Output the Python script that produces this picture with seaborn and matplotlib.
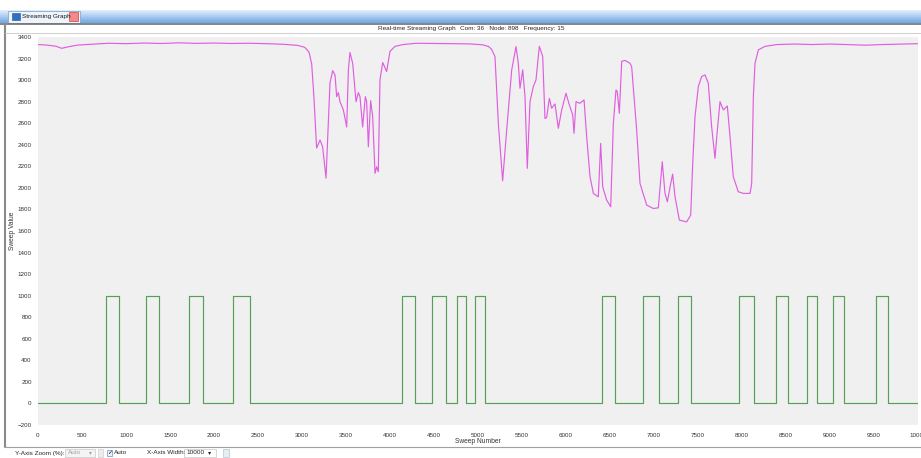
import matplotlib
matplotlib.use("Agg")
import matplotlib.pyplot as plt
import numpy as np
import pandas as pd
import seaborn as sns
from matplotlib.colors import LinearSegmentedColormap
from matplotlib.patches import Rectangle

# magenta trace
magenta_sweep = [
    0, 100, 200, 270, 350, 450, 600, 800, 1000, 1200, 1400, 1600, 1800, 2000,
    2200, 2400, 2600, 2800, 2950, 3030, 3080, 3110, 3135, 3166, 3205, 3234,
    3273, 3318, 3349, 3375, 3394, 3413, 3432, 3470, 3508, 3527, 3545, 3576,
    3614, 3640, 3659, 3689, 3720, 3735, 3754, 3780, 3803, 3830, 3848, 3867,
    3886, 3917, 3962, 4000, 4057, 4150, 4300, 4500, 4700, 4900, 5050, 5120,
    5155, 5193, 5231, 5280, 5326, 5383, 5432, 5458, 5477, 5508, 5534, 5560,
    5591, 5629, 5659, 5697, 5735, 5761, 5780, 5811, 5837, 5875, 5913, 5951,
    6000, 6038, 6076, 6091, 6114, 6159, 6205, 6235, 6273, 6311, 6367, 6394,
    6417, 6462, 6508, 6538, 6568, 6583, 6606, 6633, 6670, 6727, 6746, 6803,
    6841, 6917, 6992, 7049, 7094, 7125, 7152, 7190, 7212, 7239, 7288, 7371,
    7417, 7440, 7466, 7504, 7542, 7580, 7617, 7655, 7693, 7720, 7750, 7788,
    7833, 7864, 7901, 7958, 8015, 8091, 8110, 8129, 8148, 8186, 8261, 8400,
    8600, 8800, 9000, 9200, 9400, 9600, 9800, 10000,
]
magenta_value = [
    3330, 3325, 3315, 3295, 3310, 3325, 3332, 3342, 3338, 3344, 3340, 3346,
    3341, 3344, 3340, 3342, 3338, 3332, 3322, 3305, 3260, 3150, 2850, 2370,
    2444, 2382, 2091, 2974, 3088, 3048, 2847, 2884, 2800, 2723, 2565, 3095,
    3256, 3156, 2800, 2884, 2847, 2565, 2847, 2800, 2382, 2809, 2661, 2135,
    2196, 2150, 3002, 3163, 3080, 3267, 3313, 3330, 3342, 3340, 3338, 3336,
    3328, 3312, 3285, 3218, 2600, 2066, 2537, 3095, 3311, 3157, 2924, 3095,
    2847, 2181, 2800, 2941, 3002, 3313, 3220, 2644, 2654, 2831, 2739, 2779,
    2553, 2723, 2878, 2770, 2677, 2506, 2800, 2785, 2816, 2475, 2103, 1949,
    1917, 2413, 2010, 1887, 1825, 2599, 2909, 2894, 2692, 3174, 3183, 3156,
    3126, 2537, 2041, 1840, 1809, 1815, 2243, 1949, 1871, 2041, 2128, 1917,
    1701, 1685, 1747, 2227, 2661, 2941, 3034, 3048, 2971, 2568, 2274, 2537,
    2800, 2723, 2760, 2475, 2103, 1964, 1949, 1949, 2041, 2847, 3156, 3281,
    3313, 3330, 3335, 3330, 3335, 3330, 3324, 3330, 3334, 3338,
]

# green trace: square pulses to 1000
pulse_start = [775, 1230, 1715, 2215, 4135, 4475, 4760, 4965,
               6410, 6875, 7275, 7965, 8385, 8740, 9035, 9525]
pulse_end = [920, 1375, 1875, 2410, 4285, 4635, 4865, 5080,
             6555, 7055, 7420, 8135, 8525, 8850, 9160, 9660]
pulse_high = 1000
pulse_low = 5

x_ticks = list(range(0, 10001, 500))
y_ticks = list(range(-200, 3401, 200))

W, H = 921, 458


def fx(x):
    return x / W


def fy(y):
    return 1 - y / H


sns.set_style("white", {"axes.facecolor": "#f0f0f0"})
plt.rcParams["font.family"] = ["Liberation Sans", "DejaVu Sans"]

fig = plt.figure(figsize=(W / 100, H / 100), dpi=100)

# window chrome: tab bar gradient
bar = fig.add_axes([0, fy(23), 1, 13 / H])
grad = np.linspace(0, 1, 50).reshape(-1, 1)
cmap = LinearSegmentedColormap.from_list("bar", ["#e4effb", "#a9cbf0", "#6fa6e4"])
bar.imshow(grad, aspect="auto", cmap=cmap, extent=[0, 1, 0, 1])
bar.axis("off")
fig.add_artist(Rectangle((fx(8), fy(23)), fx(72), 12 / H, transform=fig.transFigure,
                         facecolor="#eef4fb", edgecolor="#8aa8cc", lw=0.6))
fig.add_artist(Rectangle((fx(12), fy(20)), fx(8), 7 / H, transform=fig.transFigure,
                         facecolor="#2f6fc4", edgecolor="#1d4f92", lw=0.4))
fig.add_artist(Rectangle((fx(69), fy(21)), fx(9), 9 / H, transform=fig.transFigure,
                         facecolor="#f28a8a", edgecolor="#c44", lw=0.5))
fig.text(fx(22), fy(16.5), "Streaming Graph", fontsize=4.6, va="center", color="#1a1a1a")
fig.add_artist(plt.Line2D([0, 1], [fy(23.5), fy(23.5)], transform=fig.transFigure,
                          color="#707070", lw=1.2))
fig.add_artist(plt.Line2D([fx(5), fx(5)], [fy(24), fy(447)], transform=fig.transFigure,
                          color="#8a8a8a", lw=1.5))
fig.add_artist(plt.Line2D([fx(5), 1], [fy(33), fy(33)], transform=fig.transFigure,
                          color="#c8c8c8", lw=0.6))
fig.add_artist(plt.Line2D([fx(5), 1], [fy(447), fy(447)], transform=fig.transFigure,
                          color="#a0a0a0", lw=0.8))

fig.text(fx(378), fy(28.5), "Real-time Streaming Graph", fontsize=4.6, va="center")
fig.text(fx(460), fy(28.5), "Com: 36   Node: 898   Frequency: 15", fontsize=4.6, va="center")

# main plot
ax = fig.add_axes([fx(38), fy(425), (918 - 38) / W, (425 - 37) / H])

g_x, g_y = [0], [pulse_low]
for s, e in zip(pulse_start, pulse_end):
    g_x += [s, s, e, e]
    g_y += [pulse_low, pulse_high, pulse_high, pulse_low]
g_x.append(10000)
g_y.append(pulse_low)

green = pd.DataFrame({"sweep": g_x, "value": g_y})
magenta = pd.DataFrame({"sweep": magenta_sweep, "value": magenta_value})

sns.lineplot(data=green, x="sweep", y="value", sort=False, estimator=None,
             color="#55a055", lw=0.85, ax=ax)
sns.lineplot(data=magenta, x="sweep", y="value", sort=False, estimator=None,
             color="#e05ee0", lw=0.85, ax=ax)

ax.set_xlim(0, 10000)
ax.set_ylim(-200, 3400)
ax.set_xticks(x_ticks)
ax.set_yticks(y_ticks)
ax.tick_params(axis="both", labelsize=4.5, colors="#333333", length=3,
               width=0.5, direction="out", pad=1.5)
ax.tick_params(axis="x", pad=2.5)
for sp in ax.spines.values():
    sp.set_visible(False)
ax.set_xlabel("Sweep Number", fontsize=4.8, labelpad=0.5, color="#333333")
ax.set_ylabel("Sweep Value", fontsize=4.8, labelpad=1, color="#333333")
ax.grid(False)

# bottom toolbar
fig.text(fx(15), fy(453), "Y-Axis Zoom (%):", fontsize=4.6, va="center")
fig.add_artist(Rectangle((fx(65), fy(457)), fx(30), 8 / H, transform=fig.transFigure,
                         facecolor="#f4f4f4", edgecolor="#c8c8c8", lw=0.5))
fig.text(fx(68), fy(453), "Auto", fontsize=4.6, va="center", color="#a0a0a0")
fig.text(fx(89), fy(453), "\u25be", fontsize=4, va="center", color="#a0a0a0")
fig.add_artist(Rectangle((fx(98), fy(457)), fx(5), 8 / H, transform=fig.transFigure,
                         facecolor="#ececec", edgecolor="#c8c8c8", lw=0.4))
fig.add_artist(Rectangle((fx(107), fy(456)), fx(5), 6 / H, transform=fig.transFigure,
                         facecolor="#eaf2fb", edgecolor="#6d8fb8", lw=0.5))
fig.text(fx(107.5), fy(453), "\u2713", fontsize=4.5, va="center", color="#1a1a1a")
fig.text(fx(114), fy(453), "Auto", fontsize=4.6, va="center")
fig.text(fx(147), fy(453), "X-Axis Width:", fontsize=4.6, va="center")
fig.add_artist(Rectangle((fx(184), fy(457)), fx(32), 8 / H, transform=fig.transFigure,
                         facecolor="white", edgecolor="#c8c8c8", lw=0.5))
fig.text(fx(186), fy(453), "10000", fontsize=4.6, va="center")
fig.text(fx(208), fy(453), "\u25be", fontsize=4.5, va="center")
fig.add_artist(Rectangle((fx(223), fy(457)), fx(6), 8 / H, transform=fig.transFigure,
                         facecolor="#ececec", edgecolor="#9db8d8", lw=0.4))

fig.savefig("out.png", dpi=100)
